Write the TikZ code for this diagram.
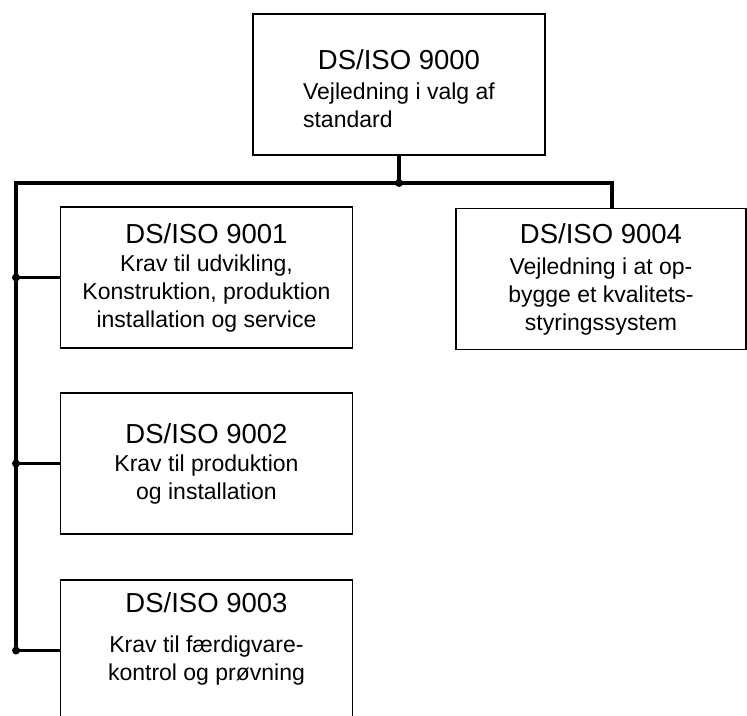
\documentclass[tikz,border=0pt]{standalone}
\usepackage{fontspec}
\setmainfont{Liberation Sans}
\usepackage{tikz}

\newcommand{\isotitle}[1]{{\fontsize{27.5}{28}\selectfont #1}}

\begin{document}
\begin{tikzpicture}[x=1pt,y=1pt]
	\tikzstyle{every node}+=[inner sep=0pt]
	\tikzstyle{isobox}=[draw, line width=1.6pt, minimum width=292pt, minimum height=141pt, align=center, font=\fontsize{23}{28}\selectfont]
	\tikzstyle{conn}=[line width=3.5pt]
	\useasboundingbox (0,0) rectangle (747,-715);
	\node [isobox] (iso0) at (399,-84.5) {\raisebox{-8pt}[\height][\depth]{\begin{tabular}{@{}c@{}}\isotitle{DS/ISO 9000}\\[2pt]\begin{tabular}{@{}l@{}}Vejledning i valg af\\standard\end{tabular}\end{tabular}}};
	\node [isobox] (iso1) at (206.5,-277.5) {\isotitle{DS/ISO 9001}\\Krav til udvikling,\\Konstruktion, produktion\\installation og service};
	\node [isobox] (iso2) at (206.5,-463.5) {\isotitle{DS/ISO 9002}\\Krav til produktion\\og installation};
	\node [isobox] (iso3) at (206.5,-650.5) {\raisebox{10pt}[\height][\depth]{\begin{tabular}{@{}c@{}}\isotitle{DS/ISO 9003}\\[12pt]Krav til f\ae rdigvare-\\kontrol og pr\o vning\end{tabular}}};
	\node [isobox, minimum width=290pt] (iso4) at (601,-279) {\isotitle{DS/ISO 9004}\\[3pt]Vejledning i at op-\\bygge et kvalitets-\\styringssystem};
	\coordinate (bus) at (16,-183);
	\coordinate (j4) at (612,-183);
	\draw [conn] (iso0.south) -- (iso0.south |- bus);
	\draw [conn] (bus |- iso3.west) -- (bus) -- (j4) -- (j4 |- iso4.north);
	\draw [conn] (bus |- iso1.west) -- (iso1.west);
	\draw [conn] (bus |- iso2.west) -- (iso2.west);
	\draw [conn] (bus |- iso3.west) -- (iso3.west);
	\fill (iso0.south |- bus) circle (4);
	\fill (bus |- iso1.west) circle (4);
	\fill (bus |- iso2.west) circle (4);
	\fill (bus |- iso3.west) circle (4);
\end{tikzpicture}
\end{document}
